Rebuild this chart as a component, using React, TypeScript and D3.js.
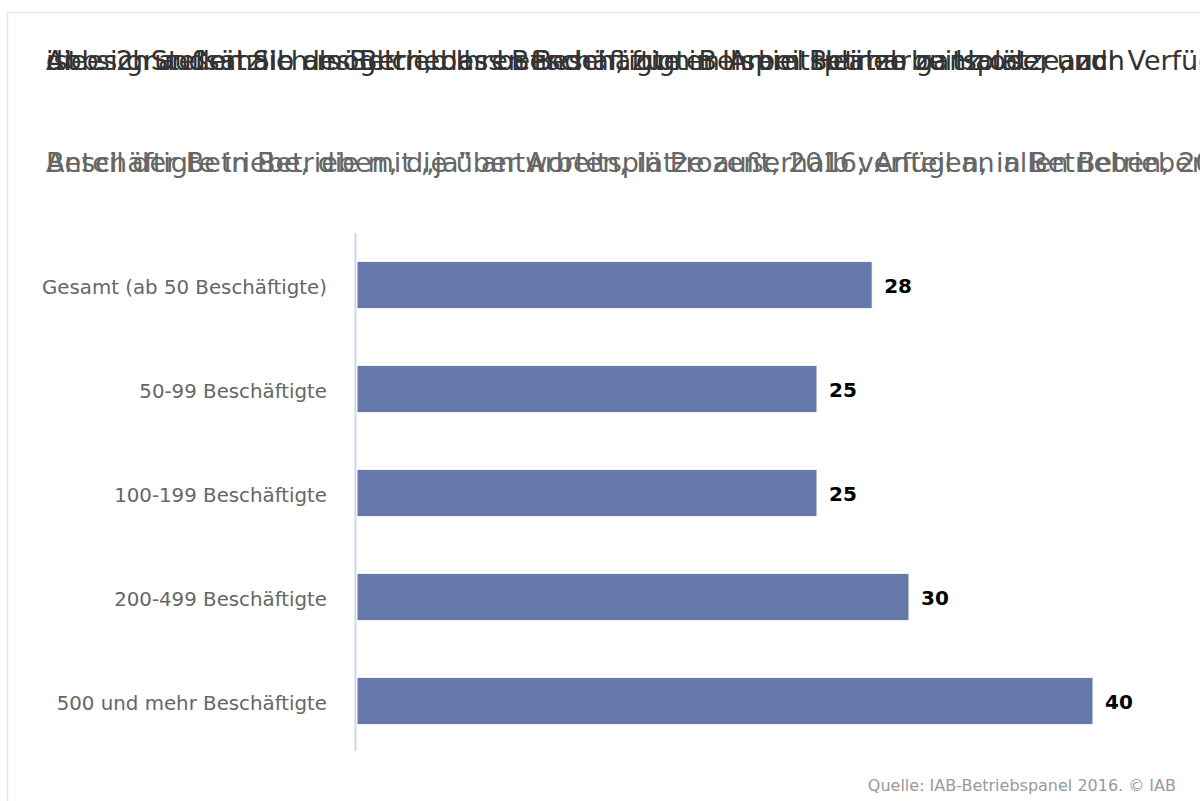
import React from "react";
import * as d3 from "d3";

const categories = [
  "Gesamt (ab 50 Beschäftigte)",
  "50-99 Beschäftigte",
  "100-199 Beschäftigte",
  "200-499 Beschäftigte",
  "500 und mehr Beschäftigte",
];
const values = [28, 25, 25, 30, 40];

const titleLines = [
  "Abb. 2: Stellen Sie als Betrieb Ihren Beschäftigten Arbeitsplätze zu Hause, und",
  "ist es grundsätzlich möglich, dass Beschäftigte in Ihrem Betrieb ganz oder auch",
  "die sich außerhalb des Betriebes befinden, zum Beispiel Heimarbeitsplätze, zur Verfügung",
];
const subtitleLines = [
  "Anteil der Betriebe, die mit „ja“ antworten, in Prozent, 2016; Anteil an allen Betrieben,",
  "Beschäftigte in Betrieben, die über Arbeitsplätze außerhalb verfügen, in Betrieben, 2016",
];
const source = "Quelle: IAB-Betriebspanel 2016. © IAB";

const W = 1200;
const H = 801;
const FONT = "'DejaVu Sans', sans-serif";

export default function App() {
  const plotTop = 233;
  const plotBottom = 753;
  const x = d3.scaleLinear().domain([0, 40]).range([357, 1093]);
  const y = d3
    .scaleBand<string>()
    .domain(categories)
    .range([plotTop, plotBottom])
    .paddingInner(0.545)
    .paddingOuter(0.2725);

  return (
    <svg
      width={W}
      height={H}
      style={{ position: "absolute", left: 0, top: 0, display: "block", overflow: "hidden" }}
      fontFamily={FONT}
    >
      <rect x={0} y={0} width={W} height={H} fill="#ffffff" />
      <rect x={7.5} y={12.5} width={1400} height={1000} fill="#ffffff" stroke="#e6e6e6" strokeWidth={1.5} />
      {titleLines.map((t, i) => (
        <text key={"t" + i} x={46} y={70} fontSize={27} fill="#333333">
          {t}
        </text>
      ))}
      {subtitleLines.map((t, i) => (
        <text key={"s" + i} x={46} y={172} fontSize={27} fill="#666666">
          {t}
        </text>
      ))}
      <line x1={355.5} x2={355.5} y1={plotTop} y2={751} stroke="#ccd6eb" strokeWidth={2} />
      {categories.map((c, i) => {
        const by = y(c)!;
        const bh = y.bandwidth();
        return (
          <g key={c}>
            <rect
              x={x(0)}
              y={by}
              width={x(values[i]) - x(0)}
              height={bh}
              fill="#657aaa"
              stroke="#ffffff"
              strokeWidth={1}
            />
            <text
              x={327}
              y={by + bh / 2 + 2}
              dy="0.35em"
              textAnchor="end"
              fontSize={19.8}
              fill="#666666"
            >
              {c}
            </text>
            <text
              x={x(values[i]) + 12}
              y={by + bh / 2 + 1}
              dy="0.35em"
              fontSize={20}
              fontWeight="bold"
              fill="#000000"
            >
              {values[i]}
            </text>
          </g>
        );
      })}
      <text x={1176} y={791} textAnchor="end" fontSize={16} fill="#999999">
        {source}
      </text>
    </svg>
  );
}
